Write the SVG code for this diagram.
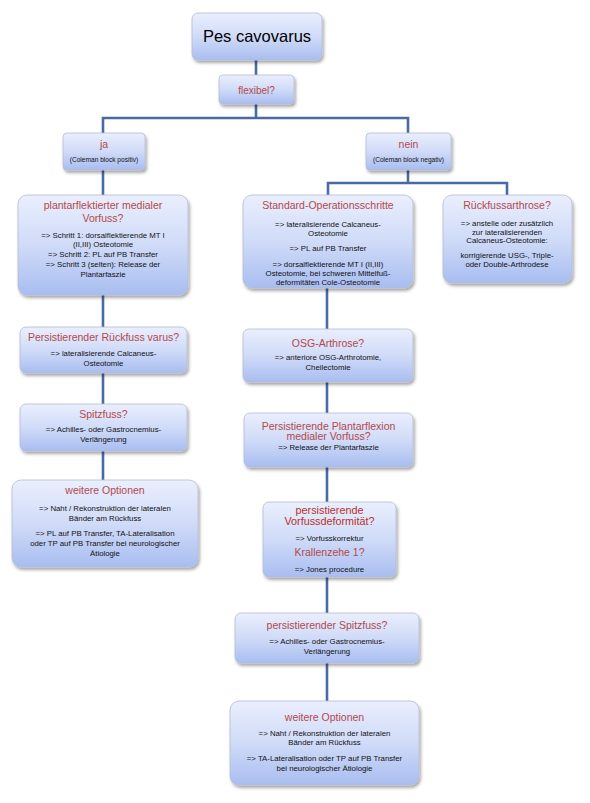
<svg xmlns="http://www.w3.org/2000/svg" width="590" height="803" viewBox="0 0 590 803">
<defs>
<linearGradient id="g" x1="0" y1="0" x2="0" y2="1">
<stop offset="0" stop-color="#eaeffd"/>
<stop offset="0.5" stop-color="#d0dbf8"/>
<stop offset="1" stop-color="#a8bdf0"/>
</linearGradient>
<filter id="sh" x="-10%" y="-10%" width="125%" height="135%">
<feDropShadow dx="1.5" dy="2.5" stdDeviation="1.6" flood-color="#000" flood-opacity="0.35"/>
</filter>
</defs>
<style>
.box{fill:url(#g);stroke:#b4bdd2;stroke-width:0.8;filter:url(#sh)}
text{font-family:"Liberation Sans",Arial,sans-serif;text-anchor:middle}
.h{fill:#b5484a;font-size:10.5px}
.b{fill:#111111;font-size:7.8px}
.s{fill:#111111;font-size:6.6px}
.c{stroke:#4a6aa6;stroke-width:2.6;fill:none}
</style>
<rect width="590" height="803" fill="#ffffff"/>
<g id="connectors">
<path class="c" d="M256,60V75"/>
<path class="c" d="M256,104V118M103,133V118H408V133"/>
<path class="c" d="M103,170V195"/>
<path class="c" d="M408,170V183M328,195V183H507V195"/>
<path class="c" d="M103,295V327M103,373V404M103,451V480"/>
<path class="c" d="M327,288V329M327,382V413M327,467V502M327,577V613M327,663V701"/>
</g>
<g id="pes">
<rect class="box" x="192" y="13" width="130" height="47" rx="6"/>
<text x="257" y="42" style="font-size:16.5px;fill:#000">Pes cavovarus</text>
</g>
<g id="flexibel">
<rect class="box" x="219" y="75" width="75" height="29" rx="4"/>
<text class="h" x="256.5" y="93.5" style="font-size:10px">flexibel?</text>
</g>
<g id="ja">
<rect class="box" x="63" y="133" width="82" height="37" rx="4"/>
<text class="h" x="104" y="148">ja</text>
<text class="s" x="104" y="161.5">(Coleman block positiv)</text>
</g>
<g id="nein">
<rect class="box" x="366" y="133" width="85" height="37" rx="4"/>
<text class="h" x="408.5" y="148">nein</text>
<text class="s" x="408.5" y="161.5">(Coleman block negativ)</text>
</g>
<g id="plantar">
<rect class="box" x="18" y="195" width="170" height="100" rx="9"/>
<text class="h" x="103" y="209">plantarflektierter medialer</text>
<text class="h" x="103" y="222">Vorfuss?</text>
<text class="b" x="103" y="237.8">=&gt; Schritt 1: dorsalflektierende MT I</text>
<text class="b" x="103" y="246.8">(II,III) Osteotomie</text>
<text class="b" x="103" y="256.8">=&gt; Schritt 2: PL auf PB Transfer</text>
<text class="b" x="103" y="266.8">=&gt; Schritt 3 (selten): Release der</text>
<text class="b" x="103" y="276.8">Plantarfaszie</text>
</g>
<g id="standard">
<rect class="box" x="243" y="195" width="170" height="93" rx="9"/>
<text class="h" x="328" y="209">Standard-Operationsschritte</text>
<text class="b" x="328" y="226.8">=&gt; lateralisierende Calcaneus-</text>
<text class="b" x="328" y="235.8">Osteotomie</text>
<text class="b" x="328" y="250.8">=&gt; PL auf PB Transfer</text>
<text class="b" x="328" y="266.8">=&gt; dorsalflektierende MT I (II,III)</text>
<text class="b" x="328" y="275.8">Osteotomie, bei schweren Mittelfuß-</text>
<text class="b" x="328" y="284.8">deformitäten Cole-Osteotomie</text>
</g>
<g id="rueckfussarthrose">
<rect class="box" x="443" y="195" width="129" height="88" rx="9"/>
<text class="h" x="507" y="209">Rückfussarthrose?</text>
<text class="b" x="507" y="225.8">=&gt; anstelle oder zusätzlich</text>
<text class="b" x="507" y="234.8">zur lateralisierenden</text>
<text class="b" x="507" y="242.8">Calcaneus-Osteotomie:</text>
<text class="b" x="507" y="257.8">korrigierende USG-, Triple-</text>
<text class="b" x="507" y="266.8">oder Double-Arthrodese</text>
</g>
<g id="varus">
<rect class="box" x="20" y="327" width="167" height="46" rx="6"/>
<text class="h" x="103.5" y="341">Persistierender Rückfuss varus?</text>
<text class="b" x="103.5" y="355.8">=&gt; lateralisierende Calcaneus-</text>
<text class="b" x="103.5" y="365.8">Osteotomie</text>
</g>
<g id="spitzfuss">
<rect class="box" x="20" y="404" width="167" height="47" rx="6"/>
<text class="h" x="103.5" y="418">Spitzfuss?</text>
<text class="b" x="103.5" y="431.8">=&gt; Achilles- oder Gastrocnemius-</text>
<text class="b" x="103.5" y="441.8">Verlängerung</text>
</g>
<g id="optionen-links">
<rect class="box" x="12" y="480" width="186" height="87" rx="9"/>
<text class="h" x="105" y="494">weitere Optionen</text>
<text class="b" x="105" y="510.8">=&gt; Naht / Rekonstruktion der lateralen</text>
<text class="b" x="105" y="520.8">Bänder am Rückfuss</text>
<text class="b" x="105" y="535.8">=&gt; PL auf PB Transfer, TA-Lateralisation</text>
<text class="b" x="105" y="545.8">oder TP auf PB Transfer bei neurologischer</text>
<text class="b" x="105" y="555.8">Ätiologie</text>
</g>
<g id="osg">
<rect class="box" x="243" y="329" width="170" height="53" rx="6"/>
<text class="h" x="328" y="347">OSG-Arthrose?</text>
<text class="b" x="328" y="359.8">=&gt; anteriore OSG-Arthrotomie,</text>
<text class="b" x="328" y="369.8">Cheilectomie</text>
</g>
<g id="plantarflexion">
<rect class="box" x="244" y="413" width="169" height="54" rx="6"/>
<text class="h" x="328.5" y="429.5">Persistierende Plantarflexion</text>
<text class="h" x="328.5" y="440">medialer Vorfuss?</text>
<text class="b" x="328.5" y="450">=&gt; Release der Plantarfaszie</text>
</g>
<g id="vorfussdeformitaet">
<rect class="box" x="263" y="502" width="133" height="75" rx="6"/>
<text class="h" x="329.5" y="513.5" style="font-size:10.8px;fill:#b8302e">persistierende</text>
<text class="h" x="329.5" y="524.5" style="font-size:10.8px;fill:#b8302e">Vorfussdeformität?</text>
<text class="b" x="329.5" y="540.8">=&gt; Vorfusskorrektur</text>
<text class="h" x="329.5" y="556">Krallenzehe  1?</text>
<text class="b" x="329.5" y="571.8">=&gt; Jones procedure</text>
</g>
<g id="spitzfuss-rechts">
<rect class="box" x="235" y="613" width="184" height="50" rx="6"/>
<text class="h" x="327" y="629">persistierender Spitzfuss?</text>
<text class="b" x="327" y="643.8">=&gt; Achilles- oder Gastrocnemius-</text>
<text class="b" x="327" y="653.8">Verlängerung</text>
</g>
<g id="optionen-rechts">
<rect class="box" x="230" y="701" width="189" height="84" rx="9"/>
<text class="h" x="324.5" y="721">weitere Optionen</text>
<text class="b" x="324.5" y="735.8">=&gt; Naht / Rekonstruktion der lateralen</text>
<text class="b" x="324.5" y="744.8">Bänder am Rückfuss</text>
<text class="b" x="324.5" y="760.8">=&gt; TA-Lateralisation oder TP auf PB Transfer</text>
<text class="b" x="324.5" y="770.8">bei neurologischer Ätiologie</text>
</g>
</svg>
